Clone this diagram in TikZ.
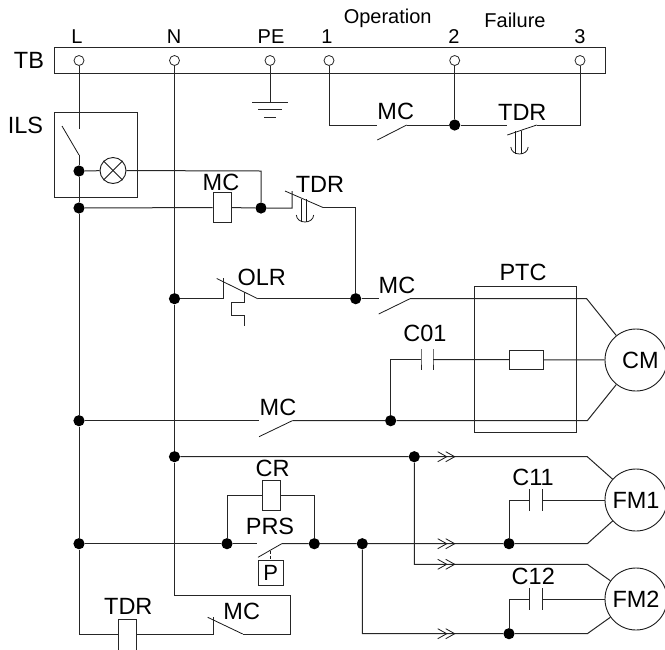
\documentclass[tikz,border=0pt]{standalone}
\usepackage{fontspec}
\setmainfont{Liberation Sans}
\usetikzlibrary{positioning, calc}

\tikzset{
    wire/.style={line width=1pt, draw=black!85},
    blade/.style={line width=0.8pt, draw=black!90},
    jdot/.style={circle, fill=black, inner sep=0pt, minimum size=11.2pt},
    term/.style={circle, draw=black!85, fill=white, line width=0.8pt, inner sep=0pt, minimum size=10pt},
    lab/.style={font=\fontsize{23.5}{26}\selectfont, inner sep=0pt},
    smalllab/.style={font=\fontsize{20}{24}\selectfont, inner sep=0pt},
    coil/.style={rectangle, draw=black!85, fill=white, line width=1pt, inner sep=0pt, minimum width=18pt, minimum height=30pt},
    motor/.style={circle, draw=black!90, fill=white, line width=0.9pt, inner sep=0pt, minimum size=62pt, font=\fontsize{23.5}{26}\selectfont},
    twochev/.pic={
        \draw[blade] (-9,-5) -- (0,0) -- (-9,5);
        \draw[blade] (-1,-5) -- (8,0) -- (-1,5);
    },
    delay/.pic={
        \draw[blade] (-4,0) -- (-4,-23);
        \draw[blade] (1.5,0) -- (1.5,-23);
        \draw[blade] (-8.7,-7) .. controls (-8,2.3) and (8,2.3) .. (8.7,-7);
    }
}

\begin{document}
\begin{tikzpicture}[x=1pt, y=-1pt]
    \useasboundingbox (0,0) rectangle (665,649);

    % Terminal block
    \draw[wire] (54,47) rectangle (605,73);
    \foreach \n/\x/\lx/\w in {tL/79/77/L, tN/174.5/174/N, tPE/270/271/PE, tA/329/327/1, tB/454.7/454/2, tC/580/580/3} {
        \node[term] (\n) at (\x,60.5) {};
        \node[smalllab] (lab\n) at (\lx,36.5) {\w};
    }
    \node[lab] (labTB) at (29,60) {TB};
    \node[smalllab] (labOp) at (387.7,18.5) {Operation};
    \node[smalllab] (labFail) at (515,20) {Failure};

    % Wire junctions
    \foreach \n/\x/\y in {dQ/454.7/125, dA/79/171, dB/79/208, dC/261/208, dD/355.7/298.7,
        dE/174.5/298.7, dF/79/420.7, dG/390.7/420.7, dH/174.5/456.7, dI/414.3/456.7,
        dJ/79/543.7, dK/227/543.7, dM/314.3/543.7, dN/362.3/543.7, dO/509/543.7, dP/509/633.7} {
        \node[jdot] (\n) at (\x,\y) {};
    }

    % Bends and contact ends
    \foreach \n/\x/\y in {
        swTop/79/129, swA/62/126, swB/79/155,
        gnd/270/102.7, gndA/252/102.7, gndB/288/102.7, gndC/258/109.3, gndD/282/109.3, gndE/264/117, gndF/276/117,
        upA/329/125, upB/377.3/125, upC/377.3/140, upD/406.7/125, upE/507.3/125, upF/507.3/135, upG/536.7/125, upH/580/125,
        lampEnd/261/171,
        tdA/292/208, tdB/292/191, tdC/285/191, tdD/323/207.5, tdE/355.7/207.5,
        olA/223/298.7, olB/223/278, olC/216.7/278.5, olD/257.7/298.7,
        olE/244.3/291.7, olF/244.3/302.3, olG/231.7/302.3, olH/231.7/315.3, olI/244.3/315.3, olJ/244.3/326,
        mcA/378.7/298.7, mcB/378.7/314, mcC/410/298.7, mcD/586.7/298.7,
        cnA/390.7/359.7,
        mdA/259/420.7, mdB/259/436.7, mdC/292.3/420.7, mdD/587.3/420.7,
        fmA/587.3/456.7, fmB/414.3/564.3, fmC/587.3/564.3, fmD/587.3/543.7, fmE/362.3/633.7, fmF/587.3/633.7,
        caA/509/500, caB/509/599,
        crA/227/495.7, crB/314.3/495.7,
        prA/256.7/543.7, prB/258/557.3, prC/281.7/543.7, prD/270.7/550.7,
        botA/79/634, botB/213/634, botC/213/617, botD/207.7/617.3, botE/242.7/634, botF/290/634, botG/290/595, botH/174.5/595} {
        \coordinate (\n) at (\x,\y);
    }

    % Boxes and coils
    \node[rectangle, draw=black!85, line width=1pt, inner sep=0pt, minimum width=83pt, minimum height=85pt] (ILS) at (95.5,154.5) {};
    \node[rectangle, draw=black!85, line width=1pt, inner sep=0pt, minimum width=101.7pt, minimum height=146.4pt] (PTC) at (525.2,359.5) {};
    \node[coil] (coilMC) at (222,207.5) {};
    \node[coil, minimum width=33.7pt, minimum height=18.7pt] (resPTC) at (526.8,359.7) {};
    \node[coil] (coilCR) at (271,495.7) {};
    \node[coil, anchor=north, minimum height=34pt] (coilTD) at (127,619) {};
    \node[coil, minimum width=24.7pt, minimum height=24.6pt, font=\fontsize{22}{24}\selectfont] (boxP) at (270.7,573) {P};

    % Lamp
    \node[circle, draw=black!90, line width=0.9pt, inner sep=0pt, minimum size=26pt] (lamp) at (113,170.5) {};
    \draw[blade] (lamp.45) -- (lamp.225);
    \draw[blade] (lamp.135) -- (lamp.315);

    % Motors
    \node[motor] (CM) at (636,360) {};
    \node[lab] (labCM) at (640.5,360) {CM};
    \node[motor] (FMa) at (636,500) {FM1};
    \node[motor] (FMb) at (636,599) {FM2};

    % Capacitors
    \foreach \n/\xa/\xb/\y/\h in {cpO/421/433/359.7/10.5, cpA/529.7/542.3/500/10.7, cpB/529.7/542.3/599/10.8} {
        \coordinate (\n L) at (\xa,\y);
        \coordinate (\n R) at (\xb,\y);
        \draw[wire] (\xa,\y-\h) -- (\n L) -- (\xa,\y+\h);
        \draw[wire] (\xb,\y-\h) -- (\n R) -- (\xb,\y+\h);
    }

    % Line L and earth
    \draw[wire] (tL) -- (swTop);
    \draw[blade] (swA) -- (swB);
    \draw[wire] (swB) -- (dA) -- (dB) -- (dF) -- (dJ) -- (botA) -- (coilTD.west |- botA);
    \draw[wire] (tPE) -- (gnd);
    \draw[wire] (gndA) -- (gndB);
    \draw[wire] (gndC) -- (gndD);
    \draw[wire] (gndE) -- (gndF);

    % Operation and failure contacts
    \draw[wire] (tA) -- (upA) -- (upB);
    \draw[blade] (upC) -- (upD);
    \draw[wire] (upD) -- (dQ) -- (tB);
    \draw[wire] (dQ) -- (upE);
    \draw[blade] (upF) -- (upG);
    \draw[wire] (upG) -- (upH) -- (tC);
    \pic at (519.5,154) {delay};

    % Lamp and MC coil
    \draw[wire] (dA) -- (lamp);
    \draw[wire] (lamp) -- (lampEnd) -- (dC);
    \draw[wire] (dB) -- (coilMC) -- (dC) -- (tdA) -- (tdB);
    \draw[blade] (tdC) -- (tdD);
    \draw[wire] (tdD) -- (tdE) -- (dD);
    \pic at (305,222) {delay};

    % Line N
    \draw[wire] (tN) -- (dE) -- (dH) -- (botH) -- (botG) -- (botF) -- (botE);
    \draw[blade] (botE) -- (botD);
    \draw[wire] (botC) -- (botB) -- (coilTD.east |- botB);

    % Overload relay and compressor
    \draw[wire] (dE) -- (olA) -- (olB);
    \draw[blade] (olC) -- (olD);
    \draw[wire] (olD) -- (dD) -- (mcA);
    \draw[wire] (olE) -- (olF) -- (olG) -- (olH) -- (olI) -- (olJ);
    \draw[blade] (mcB) -- (mcC);
    \draw[wire] (mcC) -- (mcD) -- (CM);
    \draw[wire] (dF) -- (mdA);
    \draw[blade] (mdB) -- (mdC);
    \draw[wire] (mdC) -- (dG) -- (mdD) -- (CM);
    \draw[wire] (dG) -- (cnA) -- (cpOL);
    \draw[wire] (cpOR) -- (resPTC) -- (CM);

    % Fans
    \draw[wire] (dH) -- (dI) -- (fmA) -- (FMa);
    \draw[wire] (dI) -- (fmB) -- (fmC) -- (FMb);
    \draw[wire] (dJ) -- (dK) -- (prA);
    \draw[blade] (prB) -- (prC);
    \draw[wire] (prC) -- (dM) -- (dN) -- (dO) -- (fmD) -- (FMa);
    \draw[wire] (dN) -- (fmE) -- (dP) -- (fmF) -- (FMb);
    \draw[wire] (dO) -- (caA) -- (cpAL);
    \draw[wire] (cpAR) -- (FMa);
    \draw[wire] (dP) -- (caB) -- (cpBL);
    \draw[wire] (cpBR) -- (FMb);
    \draw[wire] (dK) -- (crA) -- (coilCR) -- (crB) -- (dM);
    \draw[blade, dash pattern=on 3pt off 2pt] (prD) -- (boxP);
    \foreach \x/\y in {446.7/456.7, 446.7/543.7, 446.7/564.3, 446.7/633.7} {
        \pic at (\x,\y) {twochev};
    }

    % Labels
    \foreach \n/\x/\y/\w in {labILS/25.5/125/ILS, labMCa/395.7/111/MC, labTDa/522.3/112/TDR,
        labMCb/221/182/MC, labTDb/320/184/TDR, labOLR/261.7/277/OLR, labMCc/397/285/MC,
        labPTC/523/272/PTC, labCO/425/333/C01, labMCd/278/407.3/MC, labCR/272.7/468.3/CR,
        labPRS/270/526.7/PRS, labCA/533/477.3/C11, labCB/533.3/576.7/C12,
        labTDc/128.3/606/TDR, labMCe/241.7/611.7/MC} {
        \node[lab] (\n) at (\x,\y) {\w};
    }
\end{tikzpicture}
\end{document}
